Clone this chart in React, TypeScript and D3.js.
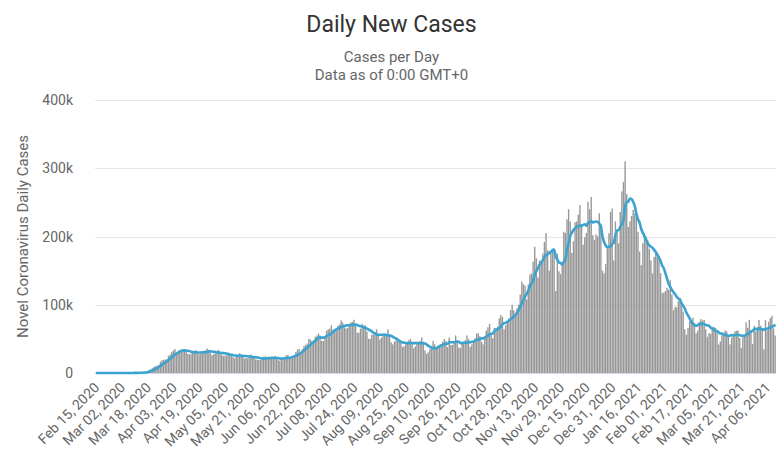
import React, { useEffect, useRef } from 'react';
import * as d3 from 'd3';

// daily new cases, in thousands, one array per month
const feb2020 = [0, 0, 0, 0, 0, 0, 0.02, 0, 0, 0.01, 0, 0, 0, 0.01, 0.01];
const mar2020 = [0.02, 0.03, 0.03, 0.04, 0.07, 0.09, 0.11, 0.12, 0.19, 0.29, 0.27, 0.43, 0.55, 0.74, 0.82, 1.3, 1.8, 3.0, 4.7, 5.6, 7.0, 9.0, 10.1, 11.0, 11.8, 16.6, 18.6, 19.5, 19.4, 20.5, 25.2];
const apr2020 = [27.0, 30.5, 33.0, 35.0, 28.0, 31.0, 34.0, 34.0, 35.0, 35.0, 31.0, 28.5, 27.0, 28.5, 31.0, 32.5, 33.5, 30.0, 27.5, 28.0, 30.0, 31.5, 33.5, 36.0, 34.0, 29.0, 26.0, 27.5, 29.0, 31.5];
const may2020 = [34.0, 30.0, 27.0, 25.0, 25.5, 26.0, 29.0, 28.0, 26.5, 23.5, 21.5, 24.5, 23.5, 29.0, 27.5, 26.5, 21.0, 22.0, 21.5, 22.5, 27.0, 25.0, 23.0, 20.0, 19.5, 19.0, 19.5, 22.5, 24.0, 24.5, 21.0];
const jun2020 = [22.0, 20.5, 20.5, 22.0, 25.0, 23.5, 19.0, 18.0, 19.5, 22.0, 23.5, 26.0, 26.5, 21.0, 21.0, 25.0, 26.5, 31.0, 34.5, 35.0, 30.0, 35.0, 39.5, 41.0, 43.0, 50.0, 49.0, 47.0, 48.0, 53.0];
const jul2020 = [55.0, 58.0, 55.0, 47.0, 47.0, 53.0, 62.0, 64.0, 65.0, 70.0, 62.0, 61.0, 64.0, 69.0, 71.0, 77.0, 74.0, 67.0, 65.0, 66.0, 70.0, 74.0, 75.0, 78.0, 69.0, 59.0, 59.0, 65.0, 72.0, 69.0, 70.0];
const aug2020 = [61.0, 50.0, 50.0, 56.0, 56.0, 60.0, 64.0, 56.0, 49.0, 52.0, 56.0, 57.0, 54.0, 64.0, 54.0, 45.0, 42.0, 46.0, 48.0, 47.0, 48.0, 45.0, 38.0, 39.0, 42.0, 46.0, 48.0, 50.0, 45.0, 36.0, 39.0];
const sep2020 = [43.0, 45.0, 47.0, 52.0, 44.0, 33.0, 28.0, 30.0, 35.0, 38.0, 47.0, 42.0, 36.0, 37.0, 41.0, 42.0, 46.0, 50.0, 47.0, 38.0, 52.0, 41.0, 41.0, 46.0, 55.0, 48.0, 37.0, 37.0, 44.0, 43.0];
const oct2020 = [48.0, 55.0, 50.0, 38.0, 42.0, 46.0, 51.0, 58.0, 58.0, 54.0, 46.0, 42.0, 54.0, 62.0, 67.0, 72.0, 58.0, 51.0, 66.0, 66.0, 68.0, 80.0, 85.0, 82.0, 64.0, 70.0, 76.0, 80.0, 92.0, 100.0, 92.0];
const nov2020 = [82, 95, 100, 115, 134, 130, 128, 108, 130, 144, 146, 163, 185, 168, 140, 165, 163, 175, 192, 205, 180, 150, 178, 180, 182, 120, 175, 149, 145, 162];
const dec2020 = [207, 205, 225, 240, 222, 176, 193, 221, 222, 232, 246, 218, 188, 199, 205, 251, 240, 258, 202, 195, 203, 200, 234, 215, 150, 146, 160, 185, 205, 236, 241];
const jan2021 = [165, 222, 208, 190, 236, 266, 280, 310, 262, 214, 222, 230, 239, 234, 231, 207, 178, 158, 190, 205, 200, 195, 182, 165, 146, 170, 180, 176, 165, 146, 117];
const feb2021 = [118, 120, 125, 122, 136, 115, 92, 97, 96, 105, 110, 99, 90, 64, 56, 66, 75, 76, 81, 73, 58, 62, 75, 79, 77, 78, 64, 53];
const mar2021 = [58.4, 57.3, 66.8, 67.9, 66.1, 59.4, 41.6, 46.2, 57.9, 58.2, 62.5, 60.8, 55.0, 42.0, 52.0, 57.0, 61.0, 62.0, 62.3, 51.4, 36.9, 52.6, 54.8, 74.3, 66.1, 77.9, 62.4, 42.3, 69.2, 60.9, 67.5];
const apr2021 = [77.6, 69.2, 64.5, 34.6, 77.5, 62.5, 75.0, 80.6, 84.0, 65.3, 55.0];

const firstDay = new Date(2020, 1, 15);

const xTickLabels = [
  "Feb 15, 2020", "Mar 02, 2020", "Mar 18, 2020", "Apr 03, 2020", "Apr 19, 2020",
  "May 05, 2020", "May 21, 2020", "Jun 06, 2020", "Jun 22, 2020", "Jul 08, 2020",
  "Jul 24, 2020", "Aug 09, 2020", "Aug 25, 2020", "Sep 10, 2020", "Sep 26, 2020",
  "Oct 12, 2020", "Oct 28, 2020", "Nov 13, 2020", "Nov 29, 2020", "Dec 15, 2020",
  "Dec 31, 2020", "Jan 16, 2021", "Feb 01, 2021", "Feb 17, 2021", "Mar 05, 2021",
  "Mar 21, 2021", "Apr 06, 2021",
];
const yTicks = [0, 100000, 200000, 300000, 400000];
const yTickLabels = ["0", "100k", "200k", "300k", "400k"];

const W = 783;
const H = 460;
const FONT = "Roboto, 'Noto Sans', sans-serif";

const App: React.FC = () => {
  const svgRef = useRef<SVGSVGElement>(null);

  useEffect(() => {
    if (!svgRef.current) return;
    const svg = d3.select(svgRef.current);
    svg.selectAll("*").remove();

    const cases = [
      ...feb2020, ...mar2020, ...apr2020, ...may2020, ...jun2020, ...jul2020, ...aug2020,
      ...sep2020, ...oct2020, ...nov2020, ...dec2020, ...jan2021, ...feb2021, ...mar2021, ...apr2021,
    ].map(v => Math.round(v * 1000));

    const fmt = d3.timeFormat("%b %d, %Y");
    const categories = cases.map((_, i) => fmt(d3.timeDay.offset(firstDay, i)));

    // trailing 7-day moving average
    const avg = cases.map((_, i) => d3.mean(cases.slice(Math.max(0, i - 6), i + 1)) as number);

    const left = 95, right = 776, top = 100, bottom = 373;

    const x = d3.scaleBand<string>()
      .domain(categories)
      .range([left, right])
      .paddingInner(0.15)
      .paddingOuter(0.1);

    const y = d3.scaleLinear()
      .domain([0, 400000])
      .range([bottom, top]);

    const cx = (c: string) => (x(c) as number) + x.bandwidth() / 2;

    // Grid lines
    svg.append("g")
      .selectAll("line")
      .data(yTicks.slice(1))
      .join("line")
      .attr("x1", left).attr("x2", right)
      .attr("y1", d => Math.round(y(d)) + 0.5).attr("y2", d => Math.round(y(d)) + 0.5)
      .attr("stroke", "#e6e6e6");

    // Y tick labels
    svg.append("g")
      .selectAll("text")
      .data(yTicks)
      .join("text")
      .attr("x", 73)
      .attr("y", d => y(d) + 5)
      .attr("text-anchor", "end")
      .attr("font-family", FONT)
      .attr("font-size", 14)
      .attr("fill", "#666666")
      .text((_, i) => yTickLabels[i]);

    // Bars
    svg.append("g")
      .selectAll("rect")
      .data(cases)
      .join("rect")
      .attr("x", (_, i) => x(categories[i]) as number)
      .attr("width", x.bandwidth())
      .attr("y", d => y(d))
      .attr("height", d => bottom - y(d))
      .attr("fill", "#979797");

    // X axis line
    svg.append("line")
      .attr("x1", left).attr("x2", right)
      .attr("y1", bottom + 0.5).attr("y2", bottom + 0.5)
      .attr("stroke", "#ccd6eb");

    // Moving average line
    const line = d3.line<number>()
      .x((_, i) => cx(categories[i]))
      .y(d => y(d))
      .curve(d3.curveMonotoneX);

    svg.append("path")
      .datum(avg)
      .attr("fill", "none")
      .attr("stroke", "#3ba3cf")
      .attr("stroke-width", 2.6)
      .attr("stroke-linejoin", "round")
      .attr("d", line);

    // X tick labels
    svg.append("g")
      .selectAll("text")
      .data(xTickLabels)
      .join("text")
      .attr("transform", d => `translate(${cx(d) + 1}, ${bottom + 12}) rotate(-45)`)
      .attr("text-anchor", "end")
      .attr("dy", "0.35em")
      .attr("font-family", FONT)
      .attr("font-size", 14)
      .attr("fill", "#666666")
      .text(d => d);

    // Y axis title
    svg.append("text")
      .attr("transform", `translate(28, ${(top + bottom) / 2}) rotate(-90)`)
      .attr("text-anchor", "middle")
      .attr("font-family", FONT)
      .attr("font-size", 15)
      .attr("fill", "#666666")
      .text("Novel Coronavirus Daily Cases");

    // Titles
    svg.append("text")
      .attr("x", W / 2).attr("y", 32)
      .attr("text-anchor", "middle")
      .attr("font-family", FONT)
      .attr("font-size", 23)
      .attr("fill", "#333333")
      .text("Daily New Cases");

    svg.append("text")
      .attr("x", W / 2).attr("y", 62)
      .attr("text-anchor", "middle")
      .attr("font-family", FONT)
      .attr("font-size", 15)
      .attr("fill", "#666666")
      .text("Cases per Day");

    svg.append("text")
      .attr("x", W / 2).attr("y", 80)
      .attr("text-anchor", "middle")
      .attr("font-family", FONT)
      .attr("font-size", 15)
      .attr("fill", "#666666")
      .text("Data as of 0:00 GMT+0");
  }, []);

  return (
    <div>
      <style>{`body { margin: 0; }`}</style>
      <svg ref={svgRef} width={W} height={H} viewBox={`0 0 ${W} ${H}`} style={{ display: 'block', background: '#fff' }} />
    </div>
  );
};

export default App;
